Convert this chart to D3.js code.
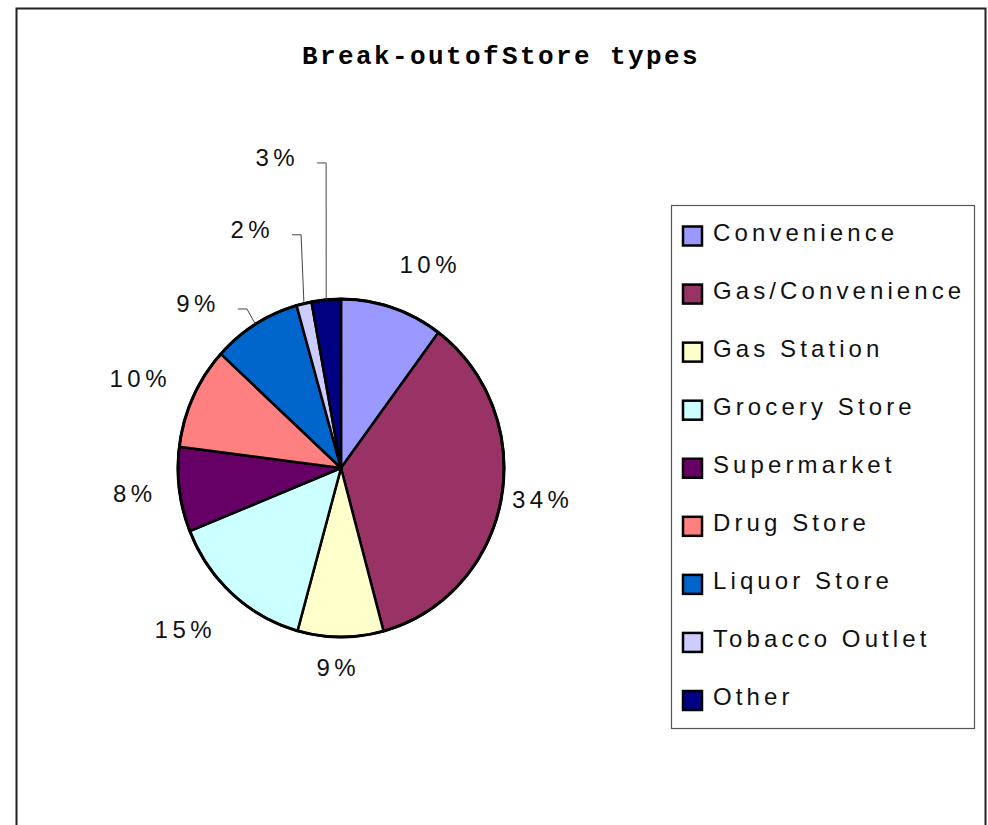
<!DOCTYPE html>
<html><head><meta charset="utf-8">
<script src="https://cdn.jsdelivr.net/npm/d3@7"></script>
<style>body{margin:0;background:#fff}</style>
</head><body><svg id="c" width="988" height="825"></svg>
<script>
// ---- data ----
const categories = ["Convenience","Gas/Convenience","Gas Station","Grocery Store","Supermarket","Drug Store","Liquor Store","Tobacco Outlet","Other"];
const shares = [10.2, 35.6, 8.5, 14.6, 8.1, 9.8, 8.8, 1.5, 2.9];
const pctLabels = ["10%","34%","9%","15%","8%","10%","9%","2%","3%"];
const colors = ["#9999FF","#993366","#FFFFCC","#CCFFFF","#660066","#FF8080","#0066CC","#CCCCFF","#000080"];
const titleParts = ["Break-out of Store", " types"];

// ---- layout ----
const cx = 341, cy = 468, rx = 163, ry = 169;
const labelAngle = [23.2, 99.1, 181.4, 224.3, 262.9, 293.9, 318.5, 339.1, 348];
const labelDist  = [221, 202, 200, 226, 210, 222, 219, 255, 317];
const hasLeader  = [false,false,false,false,false,false,true,true,true];

const svg = d3.select("#c");
svg.append("rect").attr("x",16.5).attr("y",8.5).attr("width",969).attr("height",900)
  .attr("fill","#fff").attr("stroke","#222").attr("stroke-width",2);

// title
const t = svg.append("text").attr("x",501).attr("y",64).attr("text-anchor","middle")
  .attr("font-family","'Liberation Mono','Courier New',monospace").attr("font-weight","bold")
  .attr("font-size",26).attr("letter-spacing","2.4px").attr("fill","#000");
t.append("tspan").attr("word-spacing","-17px").text(titleParts[0]);
t.append("tspan").text(titleParts[1]);

// pie
const pie = d3.pie().sort(null).value(d => d)(shares);
const arc = d3.arc().innerRadius(0).outerRadius(rx);
const g = svg.append("g").attr("transform",`translate(${cx},${cy}) scale(1,${ry/rx})`);
g.selectAll("path").data(pie).join("path")
  .attr("d", arc).attr("fill",(d,i)=>colors[i])
  .attr("stroke","#000").attr("stroke-width",2.5).attr("stroke-linejoin","round")
  .attr("vector-effect","non-scaling-stroke");
g.append("ellipse").attr("rx",rx).attr("ry",rx).attr("fill","none").attr("stroke","#000")
  .attr("stroke-width",3).attr("vector-effect","non-scaling-stroke");

// labels
const rad = a => a*Math.PI/180;
const lbl = svg.append("g").attr("font-family","'Liberation Sans',Arial,sans-serif")
  .attr("font-size",24).attr("fill","#111");
pie.forEach((d,i) => {
  const a = rad(labelAngle[i]);
  const x = cx + labelDist[i]*Math.sin(a), y = cy - labelDist[i]*Math.cos(a);
  const txt = lbl.append("text").attr("x",x).attr("y",y).attr("dx",2.2)
    .attr("text-anchor","middle").attr("dominant-baseline","central")
    .attr("letter-spacing","4.5px").text(pctLabels[i]);
  if (hasLeader[i]) {
    const bb = txt.node().getBBox();
    const sx = bb.x + bb.width + 18, sy = y + 5;
    const m = (d.startAngle + d.endAngle)/2;
    const ex = cx + rx*Math.sin(m), ey = cy - ry*Math.cos(m);
    svg.append("polyline").attr("points",`${sx},${sy} ${sx+9},${sy} ${ex},${ey}`)
      .attr("fill","none").attr("stroke","#444").attr("stroke-width",1);
  }
});

// legend
const lg = svg.append("g");
lg.append("rect").attr("x",671.5).attr("y",205.5).attr("width",303).attr("height",523)
  .attr("fill","#fff").attr("stroke","#555").attr("stroke-width",1.2);
const rowY = d3.scaleLinear().domain([0, categories.length-1]).range([236, 700.5]);
categories.forEach((c,i) => {
  lg.append("rect").attr("x",683).attr("y",rowY(i)-9.5).attr("width",19).attr("height",19)
    .attr("fill",colors[i]).attr("stroke","#000").attr("stroke-width",2.5);
  lg.append("text").attr("x",713).attr("y",rowY(i)-4).attr("dominant-baseline","central")
    .attr("font-family","'Liberation Sans',Arial,sans-serif").attr("font-size",24)
    .attr("letter-spacing","4.1px").attr("fill","#111").text(c);
});
</script></body></html>
